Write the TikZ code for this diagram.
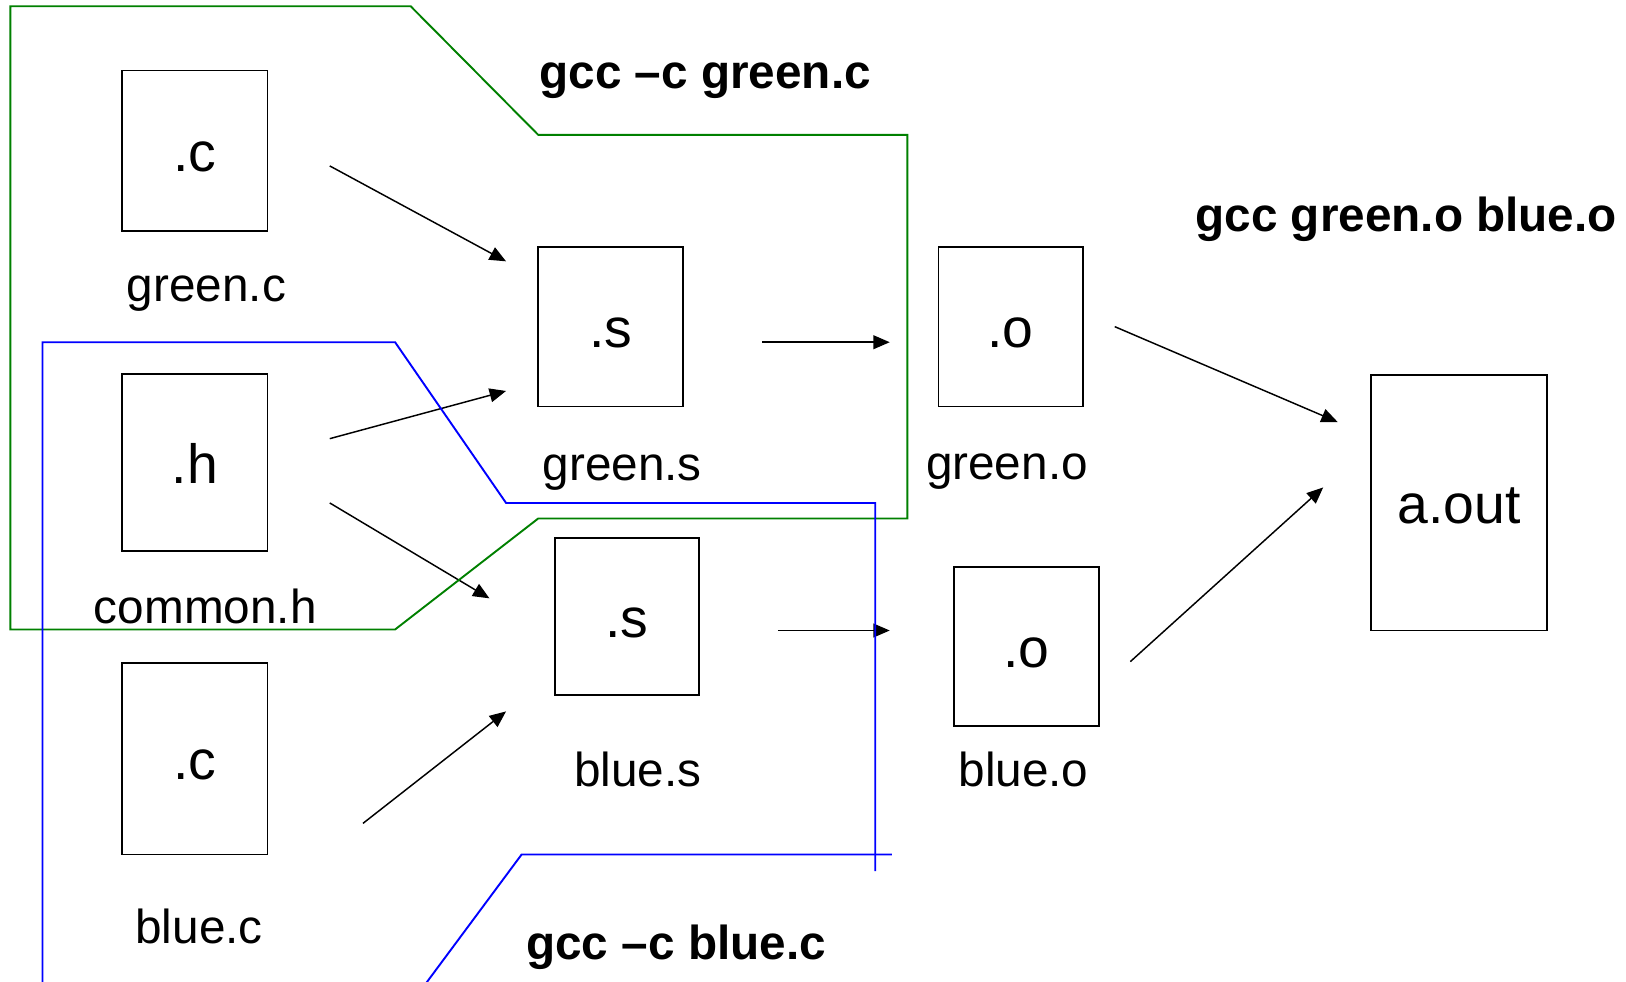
\documentclass[tikz,border=0pt]{standalone}
\usepackage{fontspec}
\setmainfont{Liberation Sans}
\usetikzlibrary{arrows.meta}
\definecolor{srcgreen}{RGB}{0,128,0}
\definecolor{srcblue}{RGB}{0,0,255}
\begin{document}
\begin{tikzpicture}[x=0.6pt,y=-0.6pt,
  filebox/.style={draw=black, line width=1.1pt, inner sep=0pt,
    font=\fontsize{32}{38}\selectfont, text height=24pt, text depth=0pt},
  fname/.style={anchor=base, inner sep=0pt, font=\fontsize{27.6}{33}\selectfont},
  cmd/.style={anchor=base, inner sep=0pt, font=\fontsize{27.6}{33}\selectfont\bfseries},
  flow/.style={line width=0.85pt, -{Triangle[length=9.5pt,width=8pt]}},
  region/.style={line width=1.1pt, line join=miter}]
\useasboundingbox (0,0) rectangle (1568,946);
\clip (0,0) rectangle (1568,946);

% source, header and intermediate files
\node[filebox, minimum width=84pt, minimum height=93pt]    (gc)  at (188,145.5) {.c};
\node[filebox, minimum width=84pt, minimum height=102pt]   (hh)  at (188,446)   {.h};
\node[filebox, minimum width=84pt, minimum height=111pt]   (bc)  at (188,731.5) {.c};
\node[filebox, minimum width=84pt, minimum height=92.4pt]  (gs)  at (589,315)   {.s};
\node[filebox, minimum width=83.4pt, minimum height=90.6pt](bs)  at (604.5,594.5) {.s};
\node[filebox, minimum width=83.4pt, minimum height=92.4pt](go)  at (974.5,315) {.o};
\node[filebox, minimum width=84pt, minimum height=91.8pt]  (bo)  at (990,623.5) {.o};
\node[filebox, minimum width=102pt, minimum height=147.6pt](aout) at (1407,485) {a.out};

% file names
\node[fname] (gcname) at (199,291) {green.c};
\node[fname] (hhname) at (198,601) {common.h};
\node[fname] (bcname) at (192,910) {blue.c};
\node[fname] (gsname) at (600,463) {green.s};
\node[fname] (bsname) at (615,758) {blue.s};
\node[fname] (goname) at (971,462) {green.o};
\node[fname] (boname) at (987,758) {blue.o};

% commands
\node[cmd] (cmdgreen) at (680,85)   {gcc \textendash c green.c};
\node[cmd] (cmdlink)  at (1356,223) {gcc green.o blue.o};
\node[cmd] (cmdblue)  at (652,925)  {gcc \textendash c blue.c};

% arrow end points
\coordinate (a1s) at (318,160);  \coordinate (a1e) at (488,252);
\coordinate (a2s) at (318,423);  \coordinate (a2e) at (488,377);
\coordinate (a3s) at (318,485);  \coordinate (a3e) at (472,577);
\coordinate (a4s) at (350,794);  \coordinate (a4e) at (488,686);
\coordinate (a5s) at (735,330);  \coordinate (a5e) at (858,330);
\coordinate (a6s) at (750,608);  \coordinate (a6e) at (858,608);
\coordinate (a7s) at (1075,315); \coordinate (a7e) at (1290,407);
\coordinate (a8s) at (1090,638); \coordinate (a8e) at (1276,470);

\draw[flow] (a1s) -- (a1e);
\draw[flow] (a2s) -- (a2e);
\draw[flow] (a3s) -- (a3e);
\draw[flow] (a4s) -- (a4e);
\draw[flow] (a5s) -- (a5e);
\draw[flow] (a6s) -- (a6e);
\draw[flow] (a7s) -- (a7e);
\draw[flow] (a8s) -- (a8e);

% region compiled by gcc -c green.c
\draw[region, srcgreen] (10,6) -- (396,6) -- (519,130) -- (875,130) -- (875,500)
  -- (519,500) -- (381,607) -- (10,607) -- cycle;

% region compiled by gcc -c blue.c
\draw[region, srcblue] (41,960) -- (41,330) -- (381,330) -- (488,485) -- (844,485) -- (844,840);
\draw[region, srcblue] (860,824) -- (503,824) -- (405,956);
\end{tikzpicture}
\end{document}
